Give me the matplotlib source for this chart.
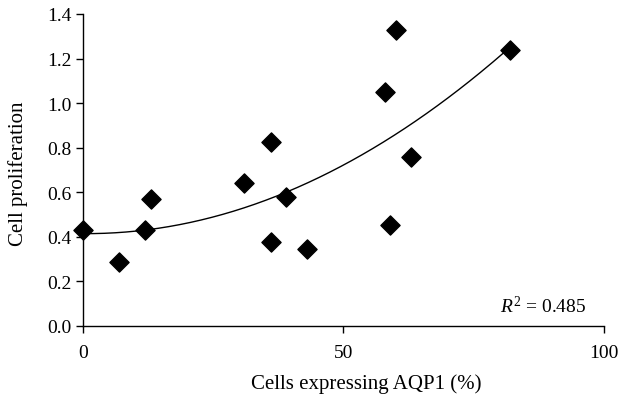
import numpy as np
import matplotlib
matplotlib.use("Agg")
import matplotlib.pyplot as plt

# Data
aqp1_pct = [0, 7, 12, 13, 31, 36, 36, 39, 43, 58, 59, 60, 63, 82]
proliferation = [0.43, 0.285, 0.43, 0.57, 0.64, 0.825, 0.375, 0.58, 0.345, 1.048, 0.453, 1.328, 0.76, 1.238]
x_ticks = [0, 50, 100]
y_ticks = [0.0, 0.2, 0.4, 0.6, 0.8, 1.0, 1.2, 1.4]
r2_label = "0.485"

plt.rcParams['font.family'] = ['Liberation Serif', 'DejaVu Serif']
plt.rcParams['mathtext.fontset'] = 'custom'
plt.rcParams['mathtext.rm'] = 'Liberation Serif'
plt.rcParams['mathtext.it'] = 'Liberation Serif:italic'

fig = plt.figure(figsize=(6.22, 4.02), dpi=100)
ax = fig.add_axes([0.1334, 0.1866, 0.971 - 0.1334, 0.9627 - 0.1866])

x = np.array(aqp1_pct, dtype=float)
y = np.array(proliferation, dtype=float)
coef = np.polyfit(x, y, 2)
xs = np.linspace(x.min(), x.max(), 200)
ax.plot(xs, np.polyval(coef, xs), color='black', lw=1.0, zorder=2)
ax.scatter(x, y, marker='D', s=95, color='black', zorder=3, clip_on=False)

ax.set_xlim(0, 100)
ax.set_ylim(0, 1.4)
ax.set_xticks(x_ticks)
ax.set_yticks(y_ticks)
ax.set_yticklabels([f"{v:.1f}" for v in y_ticks])
ax.set_xticklabels([str(v) for v in x_ticks])
for s in ['top', 'right']:
    ax.spines[s].set_visible(False)
for s in ['left', 'bottom']:
    ax.spines[s].set_linewidth(1.0)
ax.tick_params(axis='both', direction='out', length=5, width=1.0, labelsize=14, colors='black')
ax.tick_params(axis='x', pad=8)
ax.tick_params(axis='y', pad=3)

ax.set_xlabel("Cells expressing AQP1 (%)", fontsize=15)
ax.set_ylabel("Cell proliferation", fontsize=15)
ax.xaxis.set_label_coords(0.543, -0.15)
ax.yaxis.set_label_coords(-0.105, 0.49)

ax.text(96.7, 0.063, r"$R^2$ = " + r2_label, fontsize=14, ha='right', va='baseline')

fig.savefig("out.png", dpi=100)
